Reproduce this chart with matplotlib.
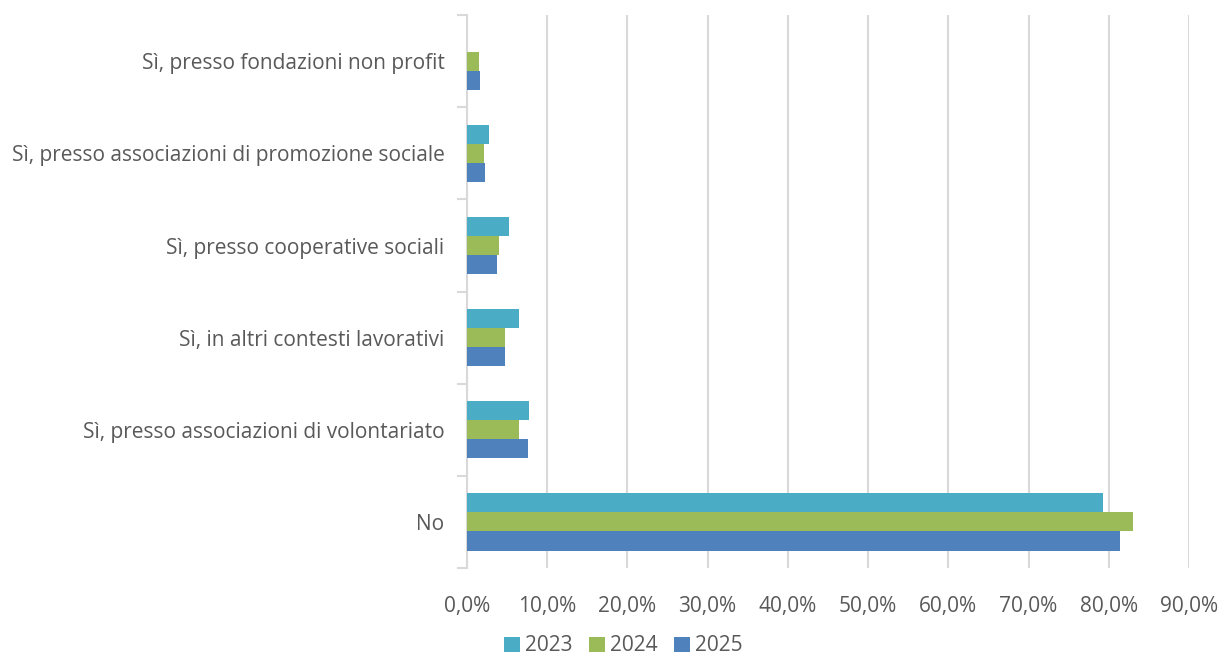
import numpy as np
import matplotlib
matplotlib.use('Agg')
from matplotlib import pyplot as plt
from matplotlib.ticker import FuncFormatter, FixedLocator

plt.rcParams['font.family'] = ['Open Sans', 'DejaVu Sans']

categorie = ['No',
             'Sì, presso associazioni di volontariato',
             'Sì, in altri contesti lavorativi',
             'Sì, presso cooperative sociali',
             'Sì, presso associazioni di promozione sociale',
             'Sì, presso fondazioni non profit']
anni = ['2023', '2024', '2025']
v2023 = [79.3, 7.7, 6.5, 5.2, 2.8, 0.0]
v2024 = [83.0, 6.5, 4.75, 4.0, 2.1, 1.5]
v2025 = [81.4, 7.6, 4.7, 3.8, 2.3, 1.7]
colori = ['#4BACC6', '#9BBB59', '#4F81BD']
grigio = '#595959'

fig = plt.figure(figsize=(12.22, 6.62), dpi=100)
ax = fig.add_axes([0.382, 0.142, 0.591, 0.835])

y = np.arange(len(categorie))
h = 0.207
serie = [v2023, v2024, v2025]
for i, (vals, col, lab) in enumerate(zip(serie, colori, anni)):
    ax.barh(y + (1 - i) * h, vals, height=h, color=col, label=lab, zorder=3)

ax.set_xlim(0, 90)
ax.set_ylim(-0.5, len(categorie) - 0.5)
ax.set_xticks(np.arange(0, 91, 10))
ax.xaxis.set_major_formatter(FuncFormatter(lambda v, p: f'{v:.1f}%'.replace('.', ',')))
ax.tick_params(axis='x', length=0, pad=20, labelsize=15, labelcolor=grigio)
ax.grid(axis='x', color='#D9D9D9', linewidth=1.5, zorder=0)

ax.set_yticks(y)
ax.set_yticklabels(categorie)
ax.tick_params(axis='y', which='major', length=0, pad=16, labelsize=15, labelcolor=grigio)
ax.yaxis.set_minor_locator(FixedLocator(np.arange(-0.5, len(categorie), 1)))
ax.tick_params(axis='y', which='minor', length=7, width=1.5, color='#D9D9D9')

for s in ['top', 'right', 'bottom']:
    ax.spines[s].set_visible(False)
ax.spines['left'].set_color('#D9D9D9')
ax.spines['left'].set_linewidth(1.5)

leg = fig.legend(loc='lower center', bbox_to_anchor=(0.51, -0.02), ncol=3, frameon=False,
                 fontsize=15, handlelength=0.75, handleheight=0.75, columnspacing=0.8,
                 handletextpad=0.25)
for t in leg.get_texts():
    t.set_color(grigio)

fig.savefig('out.png', dpi=100)
